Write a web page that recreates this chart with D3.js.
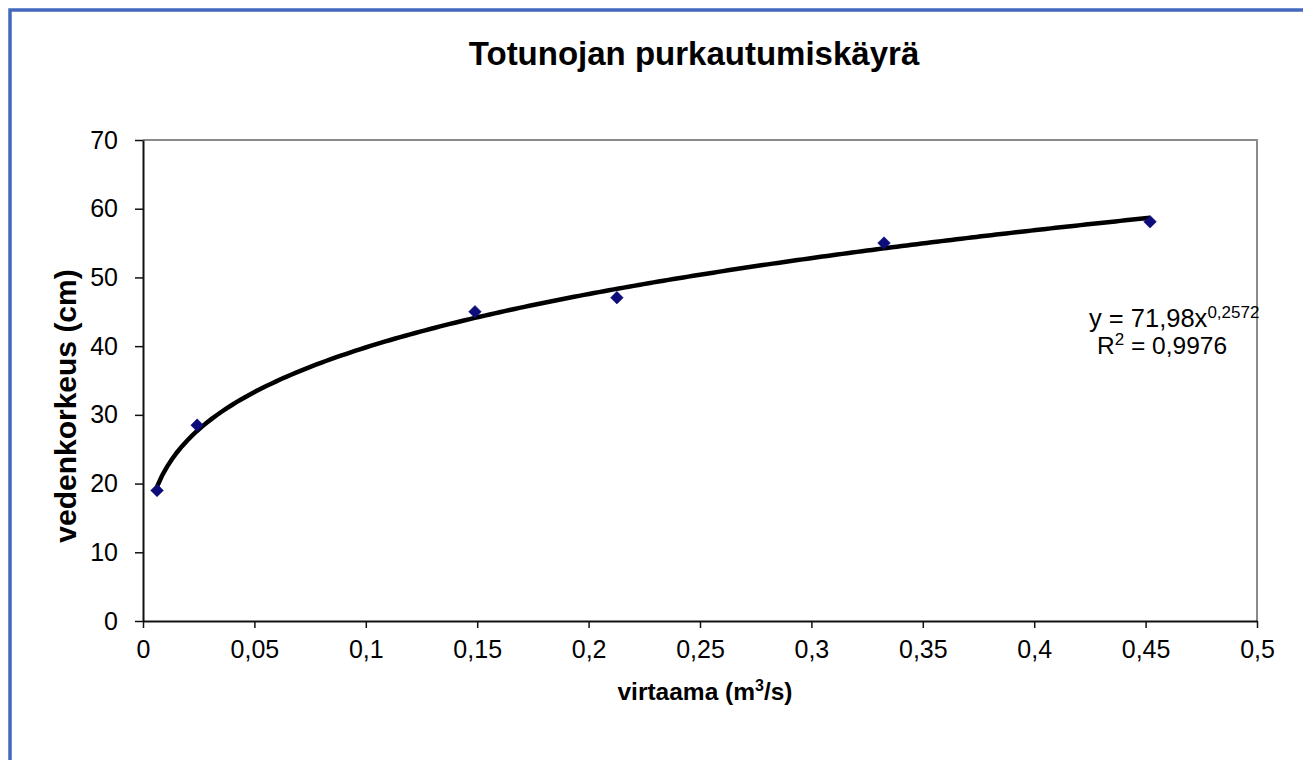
<!DOCTYPE html>
<html>
<head>
<meta charset="utf-8">
<script src="https://cdn.jsdelivr.net/npm/d3@7"></script>
<style>
  html, body { margin: 0; padding: 0; background: #fff; }
  svg { display: block; }
  text { font-family: "Liberation Sans", Arial, sans-serif; fill: #000; }
</style>
</head>
<body>
<svg id="chart" width="1303" height="760"></svg>
<script>
// ---- data ----
const virtaama = [0.0063, 0.0243, 0.149, 0.2127, 0.3326, 0.452];
const vedenkorkeus = [19.0, 28.5, 45.0, 47.05, 55.0, 58.1];
const trendCoefficient = 71.98;
const trendExponent = 0.2572;
const xTicks = [0, 0.05, 0.1, 0.15, 0.2, 0.25, 0.3, 0.35, 0.4, 0.45, 0.5];
const yTicks = [0, 10, 20, 30, 40, 50, 60, 70];
const titleText = "Totunojan purkautumiskäyrä";
const yLabelText = "vedenkorkeus (cm)";
const eqText = ["y = 71,98x", "0,2572"];
const r2Text = ["R", "2", " = 0,9976"];

(function () {
const svg = d3.select("#chart");
const W = 1303, H = 760;

// outer blue frame
svg.append("rect").attr("x", 10).attr("y", 10).attr("width", W + 20).attr("height", H + 20)
  .attr("fill", "#fff").attr("stroke", "#4468bd").attr("stroke-width", 3.5);

const pLeft = 143, pRight = 1257, pTop = 140, pBottom = 621;
const x = d3.scaleLinear().domain([0, 0.5]).range([pLeft, pRight]);
const y = d3.scaleLinear().domain([0, 70]).range([pBottom, pTop]);
const fmt = d => String(d).replace(".", ",");

// plot frame (gray top/right)
svg.append("path")
  .attr("d", `M${pLeft},${pTop}H${pRight}V${pBottom}`)
  .attr("fill", "none").attr("stroke", "#8a8a8a").attr("stroke-width", 2);

// axes
const xAxis = svg.append("g").attr("transform", `translate(0,${pBottom})`)
  .call(d3.axisBottom(x).tickValues(xTicks).tickFormat(fmt).tickSize(7).tickPadding(12).tickSizeOuter(0));
const yAxis = svg.append("g").attr("transform", `translate(${pLeft},0)`)
  .call(d3.axisLeft(y).tickValues(yTicks).tickFormat(fmt).tickSize(8).tickPadding(17).tickSizeOuter(0));
[xAxis, yAxis].forEach(g => {
  g.select(".domain").attr("stroke", "#111").attr("stroke-width", 2);
  g.selectAll(".tick line").attr("stroke", "#111").attr("stroke-width", 1.5);
  g.selectAll(".tick text").attr("font-size", 25).attr("font-family", "Liberation Sans, Arial, sans-serif").attr("fill", "#000");
});
xAxis.selectAll(".tick text").attr("dy", "0.71em");

// trendline (power fit shown on chart)
const xMin = d3.min(virtaama), xMax = d3.max(virtaama);
const curvePts = d3.range(0, 201).map(i => {
  const xv = xMin + (xMax - xMin) * i / 200;
  return [xv, trendCoefficient * Math.pow(xv, trendExponent)];
});
svg.append("path").datum(curvePts)
  .attr("d", d3.line().x(d => x(d[0])).y(d => y(d[1])))
  .attr("fill", "none").attr("stroke", "#000").attr("stroke-width", 4.5);

// markers
svg.append("g").selectAll("path").data(virtaama).join("path")
  .attr("d", d3.symbol().type(d3.symbolSquare).size(80))
  .attr("transform", (d, i) => `translate(${x(d)},${y(vedenkorkeus[i])}) rotate(45)`)
  .attr("fill", "#0c0c7a").attr("stroke", "#0c0c7a").attr("stroke-width", 0.5);

// title
svg.append("text").attr("x", 694).attr("y", 65).attr("text-anchor", "middle")
  .attr("font-size", 33).attr("font-weight", "bold").text(titleText);

// y label
svg.append("text").attr("transform", "translate(76,406) rotate(-90)")
  .attr("text-anchor", "middle").attr("font-size", 30).attr("font-weight", "bold").text(yLabelText);

// x label
const xl = svg.append("text").attr("x", 705).attr("y", 700).attr("text-anchor", "middle")
  .attr("font-size", 24.5).attr("font-weight", "bold");
xl.append("tspan").text("virtaama (m");
xl.append("tspan").attr("font-size", 16).attr("dy", -9).text("3");
xl.append("tspan").attr("dy", 9).text("/s)");

// equation
const eq = svg.append("text").attr("x", 1089).attr("y", 327).attr("font-size", 25.5);
eq.append("tspan").text(eqText[0]);
eq.append("tspan").attr("font-size", 17).attr("dy", -9).text(eqText[1]);
const r2 = svg.append("text").attr("x", 1097).attr("y", 354).attr("font-size", 24.5);
r2.append("tspan").text(r2Text[0]);
r2.append("tspan").attr("font-size", 17).attr("dy", -9).text(r2Text[1]);
r2.append("tspan").attr("dy", 9).text(r2Text[2]);
})();
</script>
</body>
</html>
